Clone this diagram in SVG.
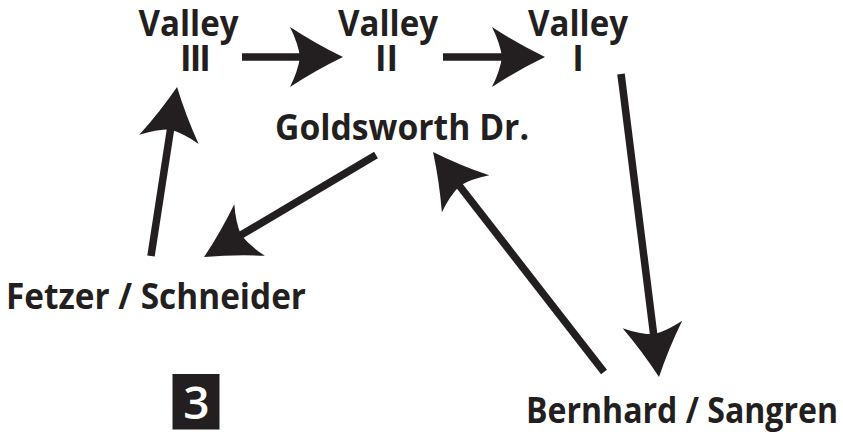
<svg xmlns="http://www.w3.org/2000/svg" width="843" height="436" viewBox="0 0 843 436">
  <style>
    .lbl { font-family: "Open Sans", "Noto Sans", "Liberation Sans", sans-serif; font-weight: 700; font-size: 35px; fill: #231f20; text-anchor: middle; }
    .edge { stroke: #231f20; stroke-width: 7.5; fill: none; stroke-linecap: butt; marker-end: url(#head); }
  </style>
  <defs>
    <marker id="head" markerUnits="userSpaceOnUse" viewBox="-60 -35 65 70" markerWidth="65" markerHeight="70" refX="-41" refY="0" orient="auto" overflow="visible">
      <path d="M0,0 Q-27,-13 -53,-30 Q-45,-14 -43,0 Q-45,14 -53,30 Q-27,13 0,0 Z" fill="#231f20"/>
    </marker>
  </defs>
  <rect width="843" height="436" fill="#ffffff"/>

  <g id="connectors">
    <line class="edge" x1="242" y1="57" x2="302" y2="57"/>
    <line class="edge" x1="443" y1="57" x2="504" y2="57"/>
    <line class="edge" x1="621" y1="74" x2="653.9" y2="336.3"/>
    <line class="edge" x1="604" y1="372" x2="458.2" y2="184.3"/>
    <line class="edge" x1="376" y1="155" x2="239.3" y2="236.1"/>
    <line class="edge" x1="151" y1="256" x2="170.8" y2="127.5"/>
  </g>

  <g id="valley3">
    <text class="lbl" x="188.5" y="36" textLength="100" lengthAdjust="spacingAndGlyphs">Valley</text>
    <text class="lbl" x="194.5" y="71" letter-spacing="-2">III</text>
  </g>
  <g id="valley2">
    <text class="lbl" x="388" y="36" textLength="100" lengthAdjust="spacingAndGlyphs">Valley</text>
    <text class="lbl" x="386.5" y="71">II</text>
  </g>
  <g id="valley1">
    <text class="lbl" x="578" y="36" textLength="100" lengthAdjust="spacingAndGlyphs">Valley</text>
    <text class="lbl" x="578" y="71">I</text>
  </g>
  <g id="goldsworth">
    <text class="lbl" x="402" y="140" textLength="254" lengthAdjust="spacingAndGlyphs">Goldsworth Dr.</text>
  </g>
  <g id="fetzer">
    <text class="lbl" x="156" y="309" textLength="300" lengthAdjust="spacingAndGlyphs">Fetzer / Schneider</text>
  </g>
  <g id="bernhard">
    <text class="lbl" x="682" y="423" textLength="312" lengthAdjust="spacingAndGlyphs">Bernhard / Sangren</text>
  </g>
  <g id="badge">
    <rect x="172.5" y="374" width="47" height="55.5" fill="#231f20"/>
    <text x="196.5" y="418.5" font-family="Open Sans, Noto Sans, Liberation Sans, sans-serif" font-weight="600" font-size="46" fill="#ffffff" text-anchor="middle">3</text>
  </g>
</svg>
